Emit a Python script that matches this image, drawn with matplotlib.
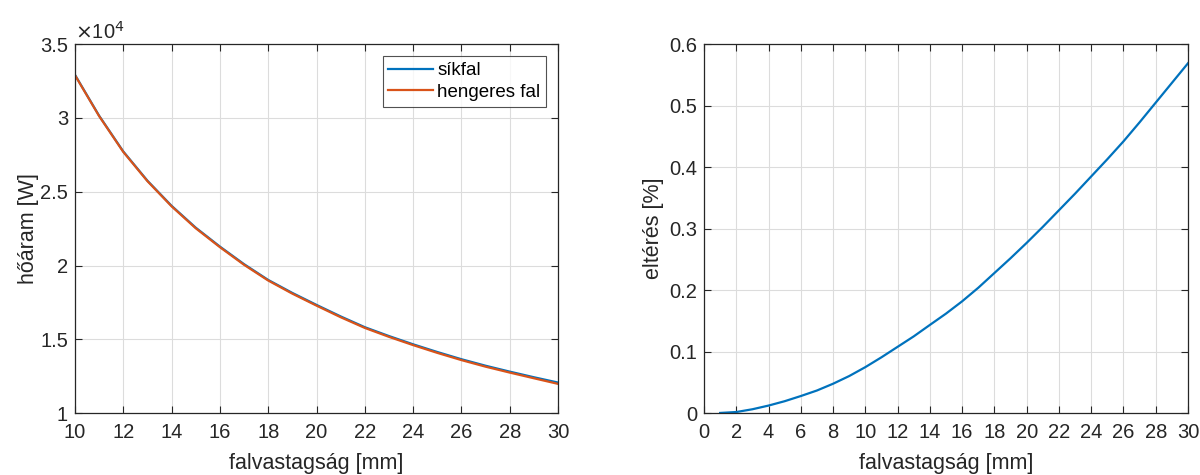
import matplotlib.pyplot as plt
from matplotlib.ticker import FuncFormatter

plt.rcParams['font.family'] = ['Liberation Sans', 'DejaVu Sans']

# --- adatok ---
vastagsag = list(range(10, 31))
sikfal = [32920, 30150, 27730, 25750, 24050, 22570, 21290, 20100, 19030, 18150, 17340,
          16560, 15830, 15230, 14670, 14150, 13660, 13220, 12820, 12440, 12080]
hengeres = [32895, 30125, 27700, 25720, 24015, 22530, 21250, 20055, 18990, 18100, 17290,
            16505, 15780, 15175, 14615, 14090, 13600, 13155, 12755, 12370, 11990]

vastagsag2 = list(range(1, 31))
elteres = [0.0005, 0.002, 0.0065, 0.0125, 0.0196, 0.028, 0.037, 0.048, 0.0605, 0.075,
           0.091, 0.108, 0.125, 0.1436, 0.162, 0.182, 0.204, 0.228, 0.252, 0.277,
           0.303, 0.330, 0.357, 0.385, 0.413, 0.442, 0.473, 0.505, 0.537, 0.569]

kek = '#0072BD'
narancs = '#D95319'
tengely = '#262626'

fig = plt.figure(figsize=(12, 4.75), dpi=100)
ax1 = fig.add_axes([0.0625, 0.130, 0.4025, 0.777])
ax2 = fig.add_axes([0.5867, 0.130, 0.4033, 0.777])


def matlab_stilus(ax):
    ax.grid(True, color='#dcdcdc', lw=0.8)
    ax.set_axisbelow(True)
    for s in ax.spines.values():
        s.set_color(tengely)
        s.set_linewidth(0.9)
    ax.tick_params(direction='in', top=True, right=True, length=5, width=0.8,
                   colors=tengely, labelsize=14.5)
    ax.tick_params(axis='x', pad=7)
    ax.tick_params(axis='y', pad=5)


ax1.plot(vastagsag, sikfal, color=kek, lw=1.6, label='síkfal')
ax1.plot(vastagsag, hengeres, color=narancs, lw=1.6, label='hengeres fal')
ax1.set_xlim(10, 30)
ax1.set_ylim(10000, 35000)
ax1.set_xticks(range(10, 31, 2))
ax1.set_yticks([10000, 15000, 20000, 25000, 30000, 35000])
ax1.yaxis.set_major_formatter(FuncFormatter(lambda v, p: f'{v / 1e4:g}'))
matlab_stilus(ax1)
ax1.text(0.0, 1.004, r'$\times$10$^4$', transform=ax1.transAxes, fontsize=14.5,
         color=tengely, va='bottom', ha='left')
ax1.set_xlabel('falvastagság [mm]', fontsize=15.5, color=tengely, labelpad=8)
ax1.set_ylabel('hőáram [W]', fontsize=15.5, color=tengely, labelpad=1)
leg = ax1.legend(loc='upper right', fontsize=13.5, frameon=True, fancybox=False,
                 handlelength=2.4, handletextpad=0.2, borderpad=0.3,
                 labelspacing=0.25, borderaxespad=0.65)
leg.get_frame().set_edgecolor(tengely)
leg.get_frame().set_linewidth(0.8)

ax2.plot(vastagsag2, elteres, color=kek, lw=1.6)
ax2.set_xlim(0, 30)
ax2.set_ylim(0, 0.6)
ax2.set_xticks(range(0, 31, 2))
ax2.set_yticks([0, 0.1, 0.2, 0.3, 0.4, 0.5, 0.6])
ax2.yaxis.set_major_formatter(FuncFormatter(lambda v, p: f'{v:g}'))
matlab_stilus(ax2)
ax2.set_xlabel('falvastagság [mm]', fontsize=15.5, color=tengely, labelpad=8)
ax2.set_ylabel('eltérés [%]', fontsize=15.5, color=tengely, labelpad=4)

fig.savefig('out.png', dpi=100)
